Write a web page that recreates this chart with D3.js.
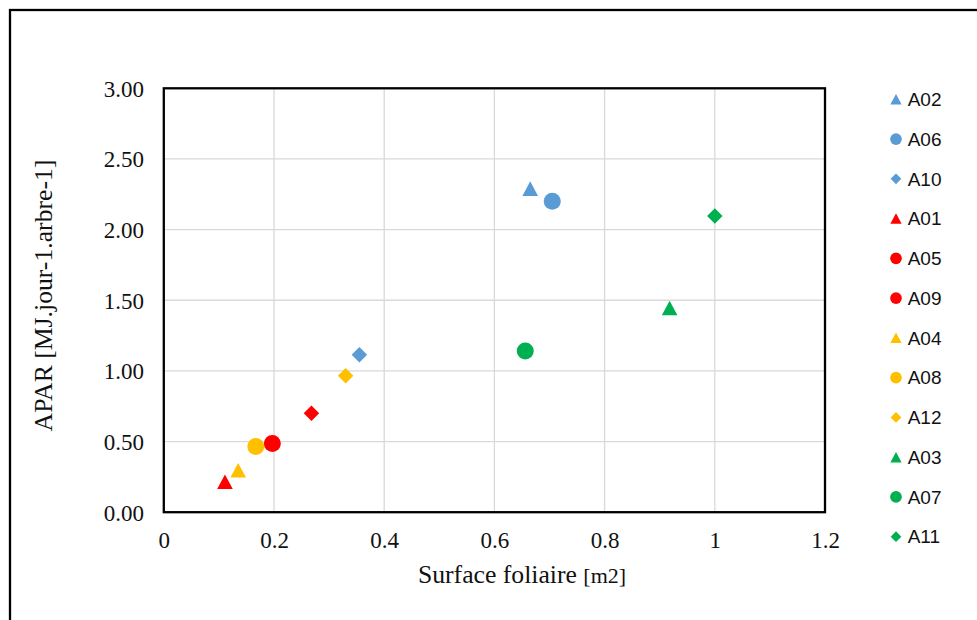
<!DOCTYPE html>
<html><head><meta charset="utf-8">
<script src="https://cdn.jsdelivr.net/npm/d3@7"></script>
<style>html,body{margin:0;padding:0;background:#fff;}svg{display:block;}</style>
</head><body>
<script>
const seriesNames = ["A02","A06","A10","A01","A05","A09","A04","A08","A12","A03","A07","A11"];
const xValues = [0.665,0.705,0.355,0.111,0.197,0.268,0.135,0.167,0.330,0.918,0.656,1.000];
const yValues = [2.29,2.20,1.115,0.215,0.486,0.70,0.297,0.465,0.965,1.446,1.141,2.097];
const seriesColors = ["#5b9bd5","#5b9bd5","#5b9bd5","#ff0000","#ff0000","#ff0000","#ffc000","#ffc000","#ffc000","#00b050","#00b050","#00b050"];
const markerShapes = ["triangle","circle","diamond","triangle","circle","diamond","triangle","circle","diamond","triangle","circle","diamond"];
const legendShapes = ["triangle","circle","diamond","triangle","circle","circle","triangle","circle","diamond","triangle","circle","diamond"];
const xTicks = [0,0.2,0.4,0.6,0.8,1,1.2];
const xTickLabels = ["0","0.2","0.4","0.6","0.8","1","1.2"];
const yTicks = [0,0.5,1,1.5,2,2.5,3];
const yTickLabels = ["0.00","0.50","1.00","1.50","2.00","2.50","3.00"];
const xTitle = "Surface foliaire ";
const xTitleUnit = "[m2]";
const yTitle = "APAR [MJ.jour-1.arbre-1]";

const W = 977, H = 620;
const plot = {left:163.8, right:825, top:88.3, bottom:512.2};
const svg = d3.select("body").append("svg").attr("width",W).attr("height",H);

// outer border
svg.append("rect").attr("x",10).attr("y",10).attr("width",W+20).attr("height",H+20)
  .attr("fill","#fff").attr("stroke","#000").attr("stroke-width",2.3);

const x = d3.scaleLinear().domain([0,1.2]).range([plot.left,plot.right]);
const y = d3.scaleLinear().domain([0,3]).range([plot.bottom,plot.top]);

// gridlines
const g = svg.append("g");
g.selectAll("line.vx").data(xTicks.slice(1,-1)).enter().append("line")
  .attr("x1",d=>x(d)).attr("x2",d=>x(d)).attr("y1",plot.top).attr("y2",plot.bottom)
  .attr("stroke","#d9d9d9").attr("stroke-width",1.3);
g.selectAll("line.hy").data(yTicks.slice(1,-1)).enter().append("line")
  .attr("y1",d=>y(d)).attr("y2",d=>y(d)).attr("x1",plot.left).attr("x2",plot.right)
  .attr("stroke","#d9d9d9").attr("stroke-width",1.3);

// plot frame
svg.append("rect").attr("x",plot.left).attr("y",plot.top)
  .attr("width",plot.right-plot.left).attr("height",plot.bottom-plot.top)
  .attr("fill","none").attr("stroke","#000").attr("stroke-width",2.3);

// axes (ticks labels)
const xAxis = d3.axisBottom(x).tickValues(xTicks).tickFormat((d,i)=>xTickLabels[i]).tickSize(0).tickPadding(0);
const xa = svg.append("g").attr("transform",`translate(0,${plot.bottom})`).call(xAxis);
xa.select(".domain").remove();
xa.selectAll("text").attr("dy",null).attr("y",35.5)
  .attr("font-family","'Liberation Serif','Times New Roman',serif").attr("font-size",23).attr("fill","#111");

const yAxis = d3.axisLeft(y).tickValues(yTicks).tickFormat((d,i)=>yTickLabels[i]).tickSize(0).tickPadding(0);
const ya = svg.append("g").attr("transform",`translate(${plot.left},0)`).call(yAxis);
ya.select(".domain").remove();
ya.selectAll("text").attr("dy",null).attr("x",-19.8).attr("y",7.8)
  .attr("font-family","'Liberation Serif','Times New Roman',serif").attr("font-size",23).attr("fill","#111");

// titles
const xt = svg.append("text").attr("x",522).attr("y",583.3).attr("text-anchor","middle")
  .attr("font-family","'Liberation Serif','Times New Roman',serif").attr("font-size",25.7).attr("fill","#111");
xt.append("tspan").text(xTitle);
xt.append("tspan").attr("font-size",22).text(xTitleUnit);

svg.append("text").attr("transform","translate(52,295.5) rotate(-90)").attr("text-anchor","middle")
  .attr("font-family","'Liberation Serif','Times New Roman',serif").attr("font-size",25.7).attr("fill","#111")
  .text(yTitle);

// marker path
function markerPath(shape, s){
  if(shape==="circle"){ const r=s/2; return `M${-r},0A${r},${r} 0 1,0 ${r},0A${r},${r} 0 1,0 ${-r},0Z`; }
  if(shape==="triangle"){ const w=s, h=s*0.93; return `M0,${-h/2}L${w/2},${h/2}L${-w/2},${h/2}Z`; }
  const r=s/2; return `M0,${-r}L${r},0L0,${r}L${-r},0Z`;
}
const chartSize = {circle:17, triangle:15.6, diamond:15.5};
const legendSize = {circle:11.7, triangle:11.3, diamond:10.7};

const pts = seriesNames.map((n,i)=>({n, x:xValues[i], y:yValues[i], c:seriesColors[i], s:markerShapes[i], ls:legendShapes[i]}));
svg.append("g").selectAll("path").data(pts).enter().append("path")
  .attr("transform",d=>`translate(${x(d.x)},${y(d.y)})`)
  .attr("d",d=>markerPath(d.s, chartSize[d.s]))
  .attr("fill",d=>d.c);

// legend
const leg = svg.append("g");
const rows = leg.selectAll("g").data(pts).enter().append("g")
  .attr("transform",(d,i)=>`translate(896,${99.3+i*39.76})`);
rows.append("path").attr("d",d=>markerPath(d.ls, legendSize[d.ls])).attr("fill",d=>d.c);
rows.append("text").attr("x",11.7).attr("y",6.8).text(d=>d.n)
  .attr("font-family","'Liberation Sans',Arial,sans-serif").attr("font-size",19).attr("fill","#111");
</script>
</body></html>
